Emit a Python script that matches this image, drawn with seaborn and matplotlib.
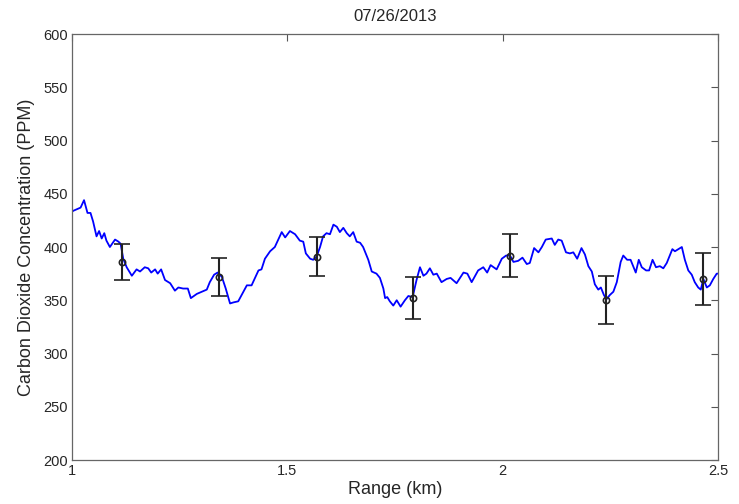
import matplotlib
matplotlib.use("Agg")
import matplotlib.pyplot as plt
import seaborn as sns
import pandas as pd
import numpy as np

range_km = [1.000, 1.003, 1.020, 1.028, 1.036, 1.043, 1.049, 1.057, 1.063, 1.069, 1.075, 1.080, 1.088,
            1.100, 1.108, 1.113, 1.119, 1.127, 1.139, 1.150, 1.158, 1.169, 1.177, 1.184, 1.193,
            1.199, 1.207, 1.216, 1.228, 1.239, 1.247, 1.258, 1.269, 1.276, 1.290, 1.313, 1.320,
            1.330, 1.338, 1.348, 1.357, 1.367, 1.375, 1.386, 1.394, 1.406, 1.417, 1.425, 1.433,
            1.440, 1.448, 1.460, 1.471, 1.479, 1.487, 1.495, 1.506, 1.518, 1.529, 1.537, 1.543,
            1.553, 1.560, 1.568, 1.576, 1.583, 1.591, 1.599, 1.607, 1.615, 1.622, 1.630, 1.638,
            1.645, 1.653, 1.661, 1.669, 1.676, 1.688, 1.696, 1.707, 1.715, 1.723, 1.727, 1.732,
            1.738, 1.746, 1.754, 1.763, 1.773, 1.781, 1.791, 1.800, 1.808, 1.816, 1.823, 1.831,
            1.839, 1.847, 1.858, 1.870, 1.879, 1.893, 1.909, 1.918, 1.928, 1.943, 1.955, 1.964,
            1.972, 1.986, 1.998, 2.008, 2.017, 2.025, 2.036, 2.046, 2.056, 2.063, 2.073, 2.083,
            2.091, 2.100, 2.114, 2.121, 2.129, 2.137, 2.147, 2.156, 2.164, 2.173, 2.183, 2.191,
            2.199, 2.207, 2.214, 2.222, 2.228, 2.235, 2.241, 2.249, 2.257, 2.265, 2.274, 2.280,
            2.289, 2.297, 2.309, 2.316, 2.323, 2.333, 2.340, 2.348, 2.356, 2.365, 2.373, 2.381,
            2.394, 2.400, 2.408, 2.416, 2.423, 2.431, 2.439, 2.446, 2.454, 2.460, 2.466, 2.474,
            2.481, 2.489, 2.497, 2.500]
co2_ppm = [433, 434, 437, 444, 432, 432, 424, 410, 415, 408, 413, 406, 400,
           407, 405, 403, 389, 381, 373, 379, 377, 381, 380, 376, 379,
           375, 379, 369, 366, 359, 362, 361, 361, 352, 356, 360, 367,
           374, 376, 372, 361, 347, 348, 349, 355, 364, 364, 371, 378,
           379, 389, 396, 400, 407, 414, 409, 415, 412, 406, 405, 394,
           389, 388, 391, 400, 410, 413, 412, 421, 419, 414, 418, 413,
           410, 414, 405, 404, 400, 388, 377, 375, 371, 361, 352, 353,
           349, 345, 350, 344, 350, 354, 353, 369, 381, 373, 375, 380,
           374, 375, 367, 370, 371, 366, 376, 375, 367, 378, 381, 376,
           383, 379, 389, 392, 392, 386, 387, 390, 384, 385, 399, 395,
           400, 407, 408, 402, 407, 406, 395, 394, 395, 389, 399, 393,
           382, 377, 365, 360, 362, 355, 351, 355, 358, 367, 386, 392,
           388, 388, 376, 388, 381, 378, 378, 388, 381, 382, 380, 385,
           398, 396, 398, 400, 388, 378, 374, 367, 362, 360, 370, 362,
           364, 370, 375, 375]

bar_range = [1.115, 1.342, 1.568, 1.791, 2.017, 2.241, 2.466]
bar_mean = [386, 372, 391, 352, 392, 350, 370]
bar_err = [17, 18, 18.5, 20, 20.5, 22.5, 24.5]

x_ticks = [1, 1.5, 2, 2.5]
x_tick_labels = ["1", "1.5", "2", "2.5"]
y_ticks = [200, 250, 300, 350, 400, 450, 500, 550, 600]

sns.set_style("white")
plt.rcParams['font.family'] = ['Liberation Sans', 'DejaVu Sans']

fig = plt.figure(figsize=(7.39, 5.04), dpi=100)
ax = fig.add_axes([0.0974, 0.0873, 0.8742, 0.8452])

df = pd.DataFrame({"range": range_km, "co2": co2_ppm})
sns.lineplot(data=df, x="range", y="co2", ax=ax, color="#0000ff", linewidth=1.3, estimator=None, sort=False)

ax.errorbar(bar_range, bar_mean, yerr=bar_err, fmt="o", mfc="none", mec="#222222",
            ms=4.5, mew=1.2, ecolor="#222222", elinewidth=1.5, capsize=5.5, capthick=1.5, zorder=3)

ax.set_xlim(1, 2.5)
ax.set_ylim(200, 600)
ax.set_xticks(x_ticks)
ax.set_xticklabels(x_tick_labels)
ax.set_yticks(y_ticks)
ax.tick_params(direction="in", length=5, width=0.8, color="#555555", top=True, right=True,
               labelsize=10.5, pad=3)
for s in ax.spines.values():
    s.set_color("#666666")
    s.set_linewidth(0.9)

ax.set_xlabel("Range (km)", fontsize=13, labelpad=2)
ax.set_ylabel("Carbon Dioxide Concentration (PPM)", fontsize=13, labelpad=6)
ax.set_title("07/26/2013", fontsize=12, pad=9.5)

fig.savefig("out.png", dpi=100)
